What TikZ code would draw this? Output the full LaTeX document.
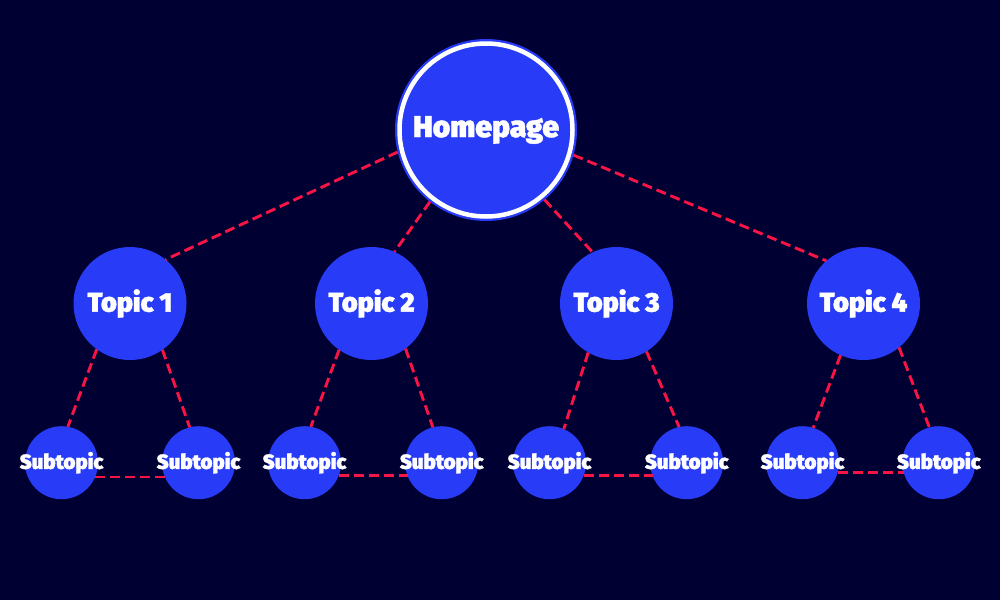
\documentclass[tikz,border=0pt]{standalone}
\usepackage{fontspec}
\setmainfont{Fira Sans}[BoldFont={* Black}, BoldFeatures={FakeBold=1.2}]
\definecolor{bgnavy}{RGB}{0,0,51}
\definecolor{nodeblue}{RGB}{40,60,248}
\definecolor{linkred}{RGB}{250,20,70}

\begin{document}
\begin{tikzpicture}[x=1pt, y=-1pt]
  % Styles
  \tikzstyle{home}=[circle, fill=nodeblue, minimum size=182pt, inner sep=0pt, outer sep=0pt, text=white, font=\bfseries\fontsize{30}{30}\selectfont]
  \tikzstyle{topic}=[circle, fill=nodeblue, minimum size=113pt, inner sep=0pt, outer sep=0pt, text=white, font=\bfseries\fontsize{27}{27}\selectfont]
  \tikzstyle{subtopic}=[circle, fill=nodeblue, minimum size=73pt, inner sep=0pt, outer sep=0pt, text=white, font=\bfseries\fontsize{20.5}{20.5}\selectfont]
  \tikzstyle{link}=[linkred, line width=2.9pt, dash pattern=on 10pt off 5pt]

  % Background
  \fill[bgnavy] (0,0) rectangle (1000,600);

  % Homepage
  \node[home] (home) at (486,130) {Homepage};
  \draw[white, line width=4.5pt] (home.center) circle (86.5pt);

  % Topics
  \node[topic] (t1) at (130,303.5) {Topic 1};
  \node[topic] (t2) at (371.5,303.5) {Topic 2};
  \node[topic] (t3) at (616.5,303.5) {Topic 3};
  \node[topic] (t4) at (863.5,303.5) {Topic 4};

  % Subtopics
  \node[subtopic] (s1a) at (61.5,462.7) {\makebox[0pt]{Subtopic}};
  \node[subtopic] (s1b) at (198.5,462.7) {\makebox[0pt]{Subtopic}};
  \node[subtopic] (s2a) at (304.5,462.7) {\makebox[0pt]{Subtopic}};
  \node[subtopic] (s2b) at (441.7,462.7) {\makebox[0pt]{Subtopic}};
  \node[subtopic] (s3a) at (549.5,462.7) {\makebox[0pt]{Subtopic}};
  \node[subtopic] (s3b) at (686.7,462.7) {\makebox[0pt]{Subtopic}};
  \node[subtopic] (s4a) at (802.5,462.7) {\makebox[0pt]{Subtopic}};
  \node[subtopic] (s4b) at (938.8,462.7) {\makebox[0pt]{Subtopic}};

  % Homepage to topics
  \draw[link] (home.194) -- (t1.51);
  \draw[link] (home.232) -- (t2.66);
  \draw[link] (home.310) -- (t3.115);
  \draw[link] (home.344) -- (t4.131);

  % Topics to subtopics
  \draw[link] (t1.234) -- (s1a.80);
  \draw[link] (t1.305) -- (s1b.104);
  \draw[link] (t2.235) -- (s2a.80);
  \draw[link] (t2.307) -- (s2b.104);
  \draw[link] (t3.240) -- (s3a.67);
  \draw[link] (t3.302) -- (s3b.102);
  \draw[link] (t4.246) -- (s4a.73);
  \draw[link] (t4.309) -- (s4b.105);

  % Subtopic pairs
  \draw[link] (s1a.337) -- (s1b.203);
  \draw[link] (s2a.339) -- (s2b.201);
  \draw[link] (s3a.339) -- (s3b.201);
  \draw[link] (s4a.344) -- (s4b.196);
\end{tikzpicture}
\end{document}
